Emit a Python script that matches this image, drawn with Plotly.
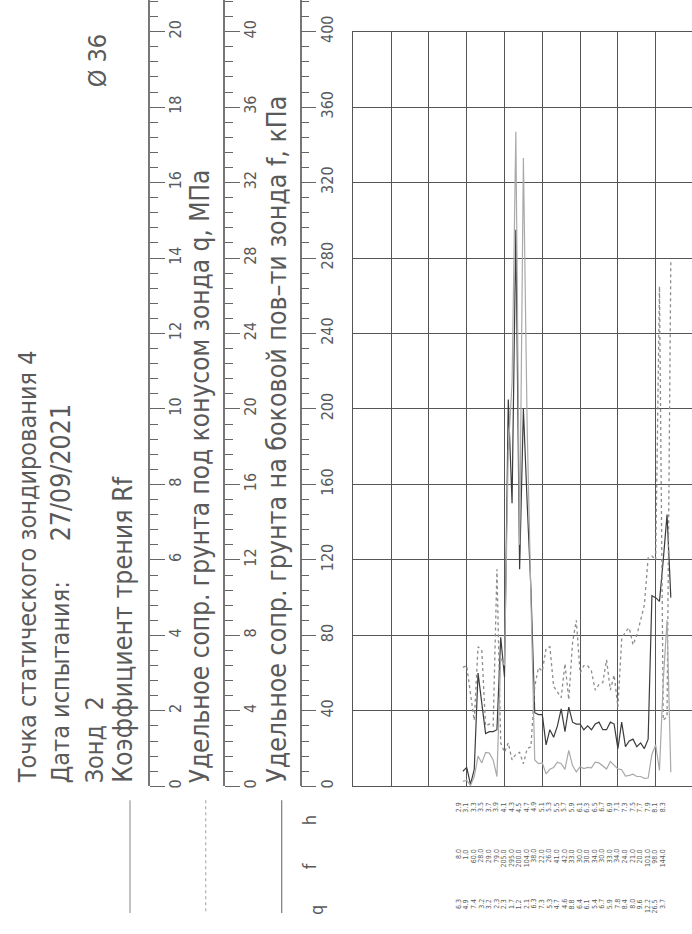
import plotly.graph_objects as go

# ---------------- data ----------------
depth = [2.9, 3.0, 3.1, 3.2, 3.3, 3.4, 3.5, 3.6, 3.7, 3.8,
         3.9, 4.0, 4.1, 4.2, 4.3, 4.4, 4.5, 4.6, 4.7, 4.8,
         4.9, 5.0, 5.1, 5.2, 5.3, 5.4, 5.5, 5.6, 5.7, 5.8,
         5.9, 6.0, 6.1, 6.2, 6.3, 6.4, 6.5, 6.6, 6.7, 6.8,
         6.9, 7.0, 7.1, 7.2, 7.3, 7.4, 7.5, 7.6, 7.7, 7.8,
         7.9, 8.0, 8.1, 8.2, 8.3, 8.4]

f_kpa = [8, 10, 1, 9, 60, 44, 28, 29, 29, 30,
         79, 58, 205, 150, 295, 115, 200, 150, 104, 39,
         38, 38, 22, 30, 26, 32, 41, 29, 42, 34,
         33, 33, 30, 32, 30, 33, 34, 30, 30, 34,
         33, 20, 34, 21, 24, 25, 21, 23, 20, 25,
         101, 100, 98, 120, 144, 100]

q_mpa = [6.3, 6.4, 4.9, 3.5, 7.4, 7.2, 3.2, 3.3, 3.2, 11.5,
         2.3, 1.8, 2.3, 1.4, 1.7, 1.8, 1.2, 2.0, 2.1, 5.3,
         6.3, 6.1, 7.3, 7.4, 5.3, 5.0, 4.7, 6.5, 4.6, 7.6,
         8.8, 6.0, 6.4, 6.4, 6.1, 5.1, 5.4, 5.5, 6.7, 5.1,
         5.9, 4.2, 7.8, 8.2, 8.4, 7.5, 8.0, 8.8, 9.6, 12.1,
         12.2, 12.0, 26.5, 3.5, 3.7, 27.8]

rf_pct = [0.13, 0.16, 0.02, 0.26, 0.8, 0.62, 0.9, 0.88, 0.7, 0.26,
          3.4, 3.2, 8.9, 10.7, 17.35, 6.4, 16.65, 9.5, 4.95, 0.7,
          0.6, 0.62, 0.33, 0.45, 0.5, 0.64, 0.6, 0.45, 0.95, 0.55,
          0.38, 0.52, 0.47, 0.5, 0.49, 0.64, 0.62, 0.54, 0.46, 0.66,
          0.55, 0.46, 0.44, 0.27, 0.29, 0.32, 0.26, 0.26, 0.21, 0.22,
          0.85, 1.1, 0.42, 2.8, 4.4, 0.37]

# table rows under the chart (every second reading)
lab_h = depth[::2]
lab_f = f_kpa[::2]
lab_q = q_mpa[::2]

title_lines = ["Точка статического зондирования 4", "Дата испытания:", "27/09/2021",
               "Зонд", "2", "Коэффициент трения Rf"]
q_label = "Удельное сопр. грунта под конусом зонда q, МПа"
f_label = "Удельное сопр. грунта на боковой пов–ти зонда f, кПа"

# ---------------- layout helpers ----------------
W, H = 692, 934
FONT = "DejaVu Sans Condensed, DejaVu Sans, sans-serif"
TXT = "#5a5a5a"


def PX(x):
    return x / W


def PY(y):
    return 1 - y / H


X0, PXM = 353.3, 37.8          # depth 0 position, pixels per metre
Y0, YTOP = 788.0, 31.7          # value 0 / full-scale positions
x_hi = (W - X0) / PXM

fig = go.Figure()

fig.add_trace(go.Scatter(x=depth, y=rf_pct, yaxis="y6", mode="lines", name="Rf",
                         line=dict(color="#a9a9a9", width=1.2), showlegend=False, hoverinfo="skip"))
fig.add_trace(go.Scatter(x=depth, y=q_mpa, yaxis="y5", mode="lines", name="q",
                         line=dict(color="#8c8c8c", width=1.3, dash="dot"), showlegend=False, hoverinfo="skip"))
fig.add_trace(go.Scatter(x=depth, y=f_kpa, mode="lines", name="f",
                         line=dict(color="#3c3c3c", width=1.2), showlegend=False, hoverinfo="skip"))

for ax in ["y2", "y3", "y4"]:
    fig.add_trace(go.Scatter(x=[0], y=[0], xaxis="x2", yaxis=ax, mode="markers",
                             marker=dict(opacity=0), showlegend=False, hoverinfo="skip"))


def ruler(pos, full, dtick, minor):
    return dict(anchor="free", position=PX(pos), side="right",
                domain=[PY(Y0), 1], range=[0, full * Y0 / (Y0 - YTOP)],
                tick0=0, dtick=dtick, ticks="outside", ticklen=15, tickwidth=1,
                tickcolor="#666", tickangle=-90, ticklabelstandoff=-3,
                tickfont=dict(family=FONT, size=16, color=TXT),
                showline=True, linecolor="#777", linewidth=1.5,
                showgrid=False, zeroline=False, fixedrange=True,
                minor=dict(tick0=0, dtick=minor, ticks="outside", ticklen=8,
                           tickwidth=1, tickcolor="#666", showgrid=False))


fig.update_layout(
    width=W, height=H, margin=dict(l=0, r=0, t=0, b=0),
    paper_bgcolor="white", plot_bgcolor="rgba(0,0,0,0)", showlegend=False,
    xaxis=dict(domain=[PX(X0), 1], range=[0, x_hi], tick0=0, dtick=1,
               showgrid=True, gridcolor="#555555", gridwidth=1,
               showticklabels=False, ticks="", zeroline=False,
               showline=True, linecolor="#555555", mirror=True, fixedrange=True),
    yaxis=dict(domain=[PY(Y0), PY(YTOP)], range=[0, 400], tick0=0, dtick=40,
               showgrid=True, gridcolor="#555555", gridwidth=1,
               showticklabels=False, ticks="", zeroline=False,
               showline=True, linecolor="#555555", fixedrange=True),
    yaxis5=dict(overlaying="y", range=[0, 40], visible=False),
    yaxis6=dict(overlaying="y", range=[0, 20], visible=False),
    xaxis2=dict(domain=[0, 0.01], visible=False, range=[0, 1]),
    yaxis2=ruler(149, 20, 2, 0.4),
    yaxis3=ruler(224.3, 40, 4, 0.8),
    yaxis4=ruler(300.7, 400, 40, 8),
)

ann = []


def vtext(text, x, y, size, anchor="bottom", color=TXT):
    ann.append(dict(text=text, x=PX(x), y=PY(y), xref="paper", yref="paper",
                    xanchor="center", yanchor=anchor, textangle=-90, showarrow=False,
                    font=dict(family=FONT, size=size, color=color)))


vtext(title_lines[0], 27.5, 787, 25)
vtext(title_lines[1], 60, 787, 25)
vtext(title_lines[2], 60, 545, 26.5)
vtext(title_lines[3], 94, 787, 25)
vtext(title_lines[4], 94, 714, 25)
vtext(title_lines[5], 123, 787, 26.5)
vtext(q_label, 200, 787, 26)
vtext(f_label, 277, 787, 26.5)
vtext("Ø 36", 97, 90, 25)
vtext("h", 309, 822, 18, anchor="middle")
vtext("f", 309, 868, 18, anchor="middle")
vtext("q", 316, 912, 18, anchor="middle")

rows = [(lab_h, "{:.1f}", 802), (lab_f, "{:.1f}", 849), (lab_q, "{:.1f}", 899)]
for vals, fmt, ytop in rows:
    for d, v in zip(lab_h, vals):
        ann.append(dict(text=fmt.format(v), x=d, y=PY(ytop), xref="x", yref="paper",
                        xanchor="center", yanchor="top", xshift=-4, textangle=-90,
                        showarrow=False, font=dict(family=FONT, size=7, color=TXT)))

fig.update_layout(annotations=ann)

shapes = []
for xpos, col, dash in [(130, "#9a9a9a", "solid"), (205.7, "#b0b0b0", "dot"), (281.7, "#7a7a7a", "solid")]:
    shapes.append(dict(type="line", xref="paper", yref="paper",
                       x0=PX(xpos), x1=PX(xpos), y0=PY(802), y1=PY(915),
                       line=dict(color=col, width=1.2, dash=dash)))
fig.update_layout(shapes=shapes)

fig.write_html("out.html", config={"displayModeBar": False},
               post_script="document.body.style.margin='0';")
